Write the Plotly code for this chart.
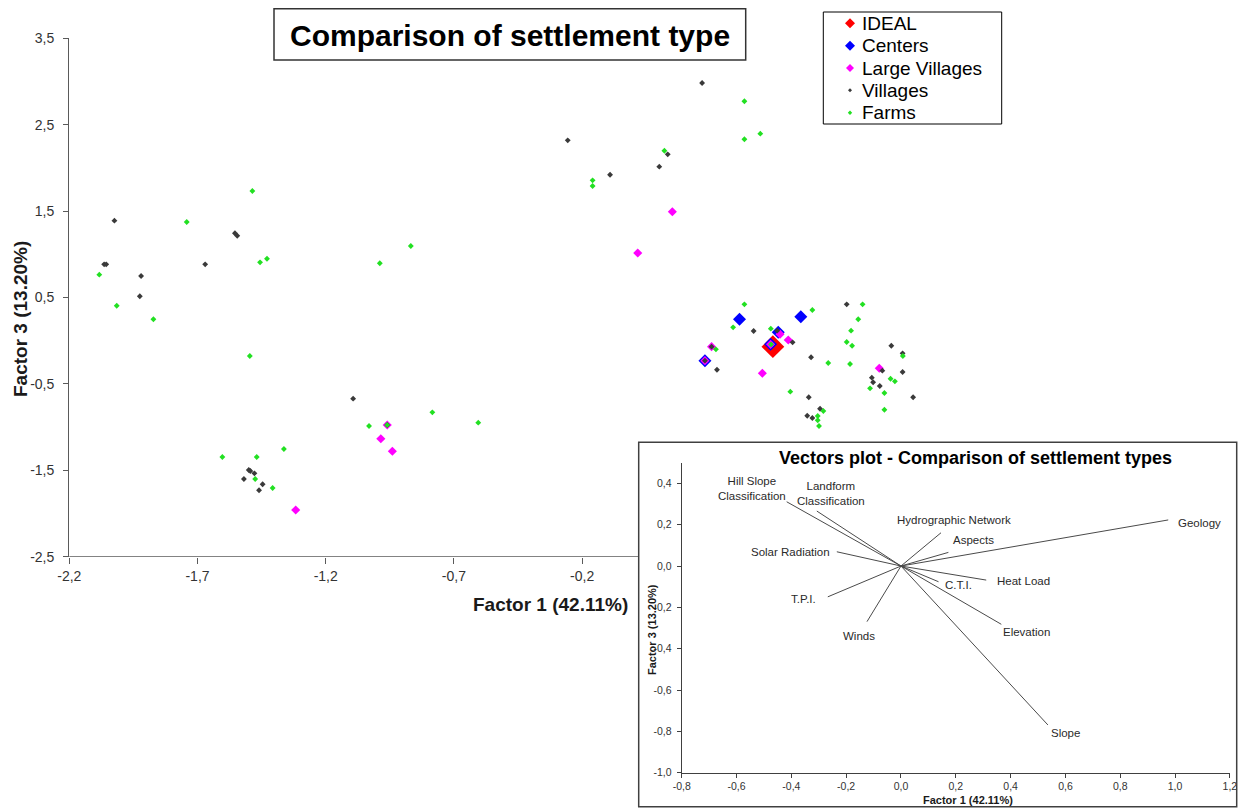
import plotly.graph_objects as go

W, H = 1240, 809
FONT = "Liberation Sans, Arial, sans-serif"


def fx(p):
    """horizontal pixel -> paper fraction"""
    return p / W


def fy(p):
    """vertical pixel (from top) -> paper fraction"""
    return 1 - p / H


# ---------------- factor scores: Factor 1 (x) vs Factor 3 (y) ----------------
ideal_f1 = [0.544]
ideal_f3 = [-0.069]

centers_f1 = [0.414, 0.653, 0.565, 0.535, 0.279]
centers_f3 = [0.248, 0.277, 0.097, -0.042, -0.231]

large_villages_f1 = [0.152, 0.017, -0.985, -0.940, -1.317, -0.960, 0.572, 0.604,
                     0.535, 0.305, 0.279, 0.503, 0.959]
large_villages_f3 = [1.493, 1.015, -1.134, -1.280, -1.959, -0.976, 0.076, 0.008,
                     -0.042, -0.069, -0.231, -0.377, -0.319]

villages_f1 = [-2.064, -2.056, -2.024, -1.920, -1.925, -1.670, -1.554, -1.545,
               -1.093, -1.500, -1.494, -1.478, -1.519, -1.446, -1.460, -0.960,
               0.268, -0.256, -0.091, 0.101, 0.134, 0.561, 0.621, 0.469,
               0.305, 0.279, 0.326, 0.693, 0.684, 0.728, 0.678, 0.698,
               0.832, 1.006, 1.050, 0.971, 1.050, 0.930, 0.935, 0.961, 1.091]
villages_f3 = [0.884, 0.884, 1.389, 0.749, 0.514, 0.884, 1.243, 1.215,
               -0.671, -1.497, -1.508, -1.535, -1.601, -1.662, -1.731, -0.976,
               2.983, 2.319, 1.921, 2.014, 2.157, 0.116, -0.019, 0.112,
               -0.069, -0.231, -0.336, -0.192, -0.655, -0.787, -0.868, -0.895,
               0.421, -0.058, -0.146, -0.347, -0.362, -0.428, -0.481, -0.524, -0.655]

farms_f1 = [-2.083, -2.015, -1.872, -1.742, -1.486, -1.456, -1.429, -0.989, -0.868,
            -1.496, -1.603, -1.469, -1.363, -1.475, -1.407, -1.031, -0.960, -0.784,
            -0.605, 0.433, 0.433, 0.495, 0.121, -0.159, -0.159, 0.433, 0.698,
            0.389, 0.536, 0.537, 0.322, 0.760, 0.612, 0.741, 0.719, 0.719, 0.724,
            0.894, 0.877, 0.849, 0.832, 0.853, 0.845, 1.051, 1.003, 1.020, 0.923,
            0.979, 0.979]
farms_f3 = [0.764, 0.405, 0.248, 1.374, 1.733, 0.907, 0.949, 0.896, 1.096,
            -0.177, -1.346, -1.346, -1.253, -1.601, -1.705, -0.987, -0.976, -0.829,
            -0.949, 2.771, 2.331, 2.396, 2.199, 1.856, 1.791, 0.421, 0.355,
            0.155, 0.139, -0.042, -0.100, -0.258, -0.590, -0.814, -0.872, -0.921, -0.987,
            0.421, 0.248, 0.116, -0.015, -0.058, -0.270, -0.177, -0.440, -0.470, -0.551,
            -0.605, -0.799]

# ---------------- variable loadings (vectors plot) ----------------
vector_names = ["Hill Slope<br>Classification", "Landform<br>Classification",
                "Solar Radiation", "T.P.I.", "Winds", "Hydrographic Network",
                "Aspects", "Geology", "Heat Load", "C.T.I.", "Elevation", "Slope"]
vector_f1 = [-0.417, -0.307, -0.234, -0.267, -0.124, 0.146,
             0.173, 0.975, 0.311, 0.137, 0.366, 0.536]
vector_f3 = [0.311, 0.266, 0.069, -0.149, -0.269, 0.161,
             0.066, 0.223, -0.068, -0.076, -0.282, -0.769]

# ---------------- tick values ----------------
main_x_ticks = [-2.2, -1.7, -1.2, -0.7, -0.2]
main_y_ticks = [-2.5, -1.5, -0.5, 0.5, 1.5, 2.5, 3.5]
inset_x_ticks = [-0.8, -0.6, -0.4, -0.2, 0.0, 0.2, 0.4, 0.6, 0.8, 1.0, 1.2]
inset_y_ticks = [-1.0, -0.8, -0.6, -0.4, -0.2, 0.0, 0.2, 0.4]


def comma_label(v):
    return f"{v:.1f}".replace(".", ",")


# label placement of each vector name: (xanchor, xshift px, yshift px)
label_place = {
    "Hill Slope<br>Classification": ("center", -35, 13),
    "Landform<br>Classification": ("center", 14, 18),
    "Solar Radiation": ("right", -5, 0),
    "T.P.I.": ("right", -10, -2),
    "Winds": ("center", -8, -14),
    "Hydrographic Network": ("center", 13, 13),
    "Aspects": ("left", 3, 12),
    "Geology": ("left", 8, -3),
    "Heat Load": ("left", 9, -1),
    "C.T.I.": ("left", 4, -3),
    "Elevation": ("left", 0, -8),
    "Slope": ("left", 1, -8),
}

# ---------------- series styles: name, x, y, colour, marker size, key half-size ----------------
series = [
    ("IDEAL", ideal_f1, ideal_f3, "#ff0000", 17.5, 5),
    ("Centers", centers_f1, centers_f3, "#0000ff", 10, 5),
    ("Large Villages", large_villages_f1, large_villages_f3, "#ff00ff", 7, 4),
    ("Villages", villages_f1, villages_f3, "#3a3a3a", 4.5, 2),
    ("Farms", farms_f1, farms_f3, "#22e022", 4.5, 2.2),
]

fig = go.Figure()

for name, xs, ys, color, size, _ in series:
    fig.add_trace(go.Scatter(
        x=xs, y=ys, mode="markers", name=name, showlegend=False,
        marker=dict(symbol="diamond", size=size, color=color, line=dict(width=0)),
        xaxis="x", yaxis="y",
    ))

# vectors from the origin to each loading
vx, vy = [], []
for a, b in zip(vector_f1, vector_f3):
    vx += [0, a, None]
    vy += [0, b, None]
fig.add_trace(go.Scatter(
    x=vx, y=vy, mode="lines", showlegend=False,
    line=dict(color="#4a4a4a", width=1),
    xaxis="x2", yaxis="y2",
))

annotations = []
for name, a, b in zip(vector_names, vector_f1, vector_f3):
    anchor, dx, dy = label_place[name]
    annotations.append(dict(
        x=a, y=b, xref="x2", yref="y2", text=name, showarrow=False,
        xanchor=anchor, yanchor="middle", xshift=dx, yshift=dy,
        font=dict(family=FONT, size=11.5, color="#2a2a2a"), align="center",
    ))

annotations += [
    dict(x=fx(510), y=fy(36), xref="paper", yref="paper",
         text="<b>Comparison of settlement type</b>", showarrow=False,
         xanchor="center", yanchor="middle",
         font=dict(family=FONT, size=30, color="black")),
    dict(x=fx(550), y=fy(604), xref="paper", yref="paper",
         text="<b>Factor 1 (42.11%)</b>", showarrow=False,
         xanchor="center", yanchor="middle",
         font=dict(family=FONT, size=19, color="#1a1a1a")),
    dict(x=fx(20), y=fy(319), xref="paper", yref="paper",
         text="<b>Factor 3 (13.20%)</b>", showarrow=False, textangle=-90,
         xanchor="center", yanchor="middle",
         font=dict(family=FONT, size=19, color="#1a1a1a")),
    dict(x=fx(975), y=fy(458), xref="paper", yref="paper",
         text="<b>Vectors plot - Comparison of settlement types</b>", showarrow=False,
         xanchor="center", yanchor="middle",
         font=dict(family=FONT, size=18, color="black")),
    dict(x=fx(968), y=fy(800), xref="paper", yref="paper",
         text="<b>Factor 1 (42.11%)</b>", showarrow=False,
         xanchor="center", yanchor="middle",
         font=dict(family=FONT, size=11, color="#1a1a1a")),
    dict(x=fx(652), y=fy(630), xref="paper", yref="paper",
         text="<b>Factor 3 (13.20%)</b>", showarrow=False, textangle=-90,
         xanchor="center", yanchor="middle",
         font=dict(family=FONT, size=11, color="#1a1a1a")),
]

shapes = [
    # frame around the chart title
    dict(type="rect", xref="paper", yref="paper",
         x0=fx(274), x1=fx(745.7), y0=fy(60), y1=fy(8.7),
         line=dict(color="#333333", width=1.5), fillcolor="rgba(0,0,0,0)"),
    # main horizontal axis line, up to the inset frame
    dict(type="line", xref="paper", yref="y",
         x0=fx(69.3), x1=fx(638.7), y0=-2.5, y1=-2.5,
         line=dict(color="#5a5a5a", width=1.4)),
    # frame of the vectors inset
    dict(type="rect", xref="paper", yref="paper",
         x0=fx(638.7), x1=fx(1236.7), y0=fy(806.7), y1=fy(442.3),
         line=dict(color="#404040", width=1.5), fillcolor="rgba(0,0,0,0)"),
    # legend frame
    dict(type="rect", xref="paper", yref="paper",
         x0=fx(823.3), x1=fx(1001.7), y0=fy(124), y1=fy(12),
         line=dict(color="black", width=1), fillcolor="white"),
]

# legend key: diamond symbol + series name per row
key_x, key_text_x, key_top, key_step = 850, 859.5, 23.3, 22.35
for i, (name, _, _, color, _, half) in enumerate(series):
    yc = key_top + i * key_step
    path = (f"M {fx(key_x - half)},{fy(yc)} L {fx(key_x)},{fy(yc - half)} "
            f"L {fx(key_x + half)},{fy(yc)} L {fx(key_x)},{fy(yc + half)} Z")
    shapes.append(dict(type="path", xref="paper", yref="paper", path=path,
                       fillcolor=color, line=dict(width=0)))
    annotations.append(dict(
        x=fx(key_text_x), y=fy(yc), xref="paper", yref="paper", text=name,
        showarrow=False, xanchor="left", yanchor="middle",
        font=dict(family=FONT, size=19, color="black"),
    ))

main_tick_font = dict(family=FONT, size=14, color="#333333")
inset_tick_font = dict(family=FONT, size=10.5, color="#333333")

fig.update_layout(
    width=W, height=H, autosize=False,
    margin=dict(l=0, r=0, t=0, b=0, pad=0),
    paper_bgcolor="white", plot_bgcolor="white",
    font=dict(family=FONT),
    separators=",.",
    showlegend=False,
    xaxis=dict(
        domain=[fx(69.3), fx(966.7)], range=[-2.2, 1.3], anchor="y", automargin=False,
        showline=False, showgrid=False, zeroline=False,
        tickvals=main_x_ticks, ticktext=[comma_label(v) for v in main_x_ticks],
        ticks="outside", ticklen=6, tickwidth=1.3, tickcolor="#5a5a5a",
        tickfont=main_tick_font,
    ),
    yaxis=dict(
        domain=[fy(556.7), fy(38.3)], range=[-2.5, 3.5], anchor="x", automargin=False,
        showline=True, linecolor="#5a5a5a", linewidth=1.4,
        showgrid=False, zeroline=False,
        tickvals=main_y_ticks, ticktext=[comma_label(v) for v in main_y_ticks],
        ticks="outside", ticklen=5, tickwidth=1.3, tickcolor="#5a5a5a",
        tickfont=main_tick_font, ticklabelstandoff=6,
    ),
    xaxis2=dict(
        domain=[fx(681.7), fx(1229.9)], range=[-0.8, 1.2], anchor="y2", automargin=False,
        showline=True, linecolor="#404040", linewidth=1,
        showgrid=False, zeroline=False,
        tickvals=inset_x_ticks, ticktext=[comma_label(v) for v in inset_x_ticks],
        ticks="outside", ticklen=4, tickcolor="#404040",
        tickfont=inset_tick_font,
    ),
    yaxis2=dict(
        domain=[fy(772.7), fy(462.7)], range=[-1.0, 0.5], anchor="x2", automargin=False,
        showline=True, linecolor="#404040", linewidth=1,
        showgrid=False, zeroline=False,
        tickvals=inset_y_ticks, ticktext=[comma_label(v) for v in inset_y_ticks],
        ticks="outside", ticklen=4, tickcolor="#404040",
        tickfont=inset_tick_font, ticklabelstandoff=3,
    ),
    annotations=annotations,
    shapes=shapes,
)

fig.write_html("out.html")
